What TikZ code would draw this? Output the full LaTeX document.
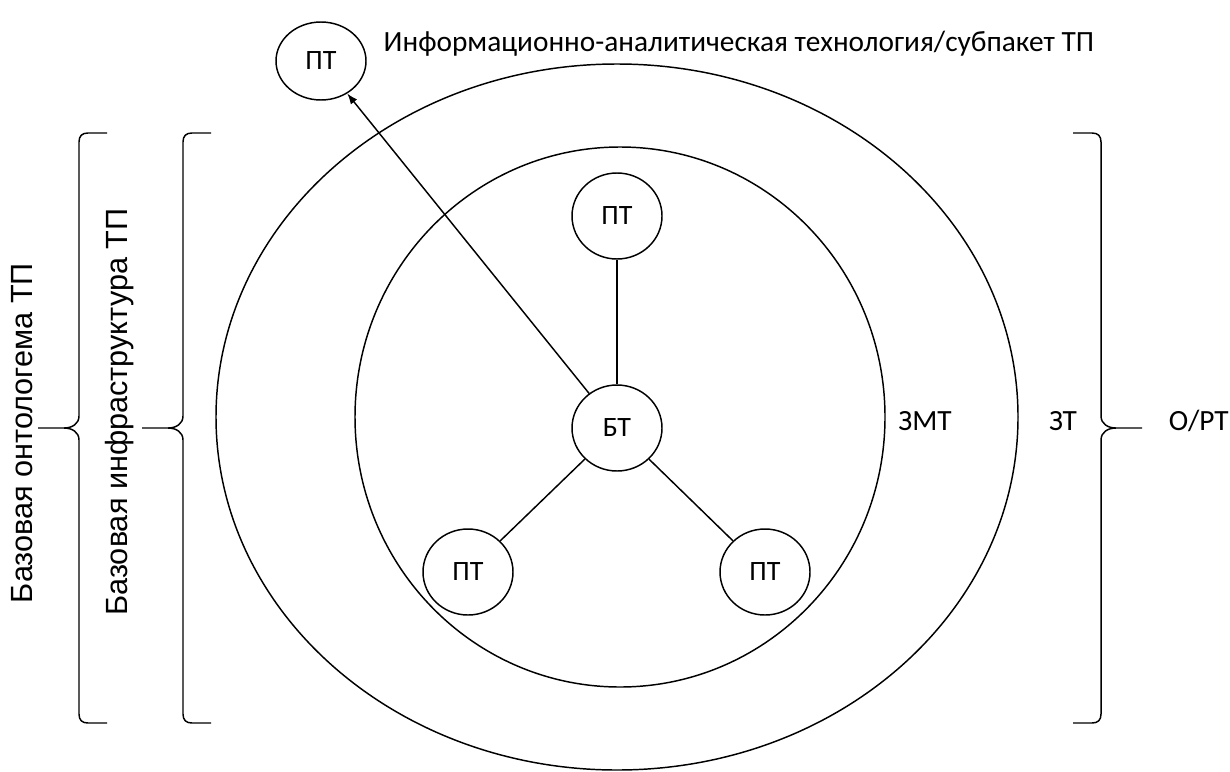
\documentclass[tikz,border=0pt]{standalone}
\usepackage{fontspec}
\setmainfont{Carlito}
\newfontfamily\arialfont{Liberation Sans}
\usetikzlibrary{shapes.geometric,arrows.meta}
\tikzset{
  lbrace/.pic={
    \draw (28,-295) -- (9,-295) .. controls (3,-295) and (0,-292) .. (0,-286) -- (0,-12)
          .. controls (0,-4) and (-7,0) .. (-15,0) -- (-41,0)
          (-15,0) .. controls (-7,0) and (0,4) .. (0,12) -- (0,286)
          .. controls (0,292) and (3,295) .. (9,295) -- (28,295);
  }
}
\begin{document}
\begin{tikzpicture}[x=0.75pt,y=-0.75pt, line width=1.1pt,
  tnode/.style={draw, ellipse, minimum width=67.5pt, minimum height=64.5pt, inner sep=0pt, font=\fontsize{21}{25}\selectfont},
  lbl/.style={font=\fontsize{22}{26}\selectfont, inner sep=0pt},
  vlbl/.style={font=\arialfont\fontsize{23}{27}\selectfont, rotate=90, inner sep=0pt}]
\useasboundingbox (0,0) rectangle (1230,771);
\draw (617,417) ellipse [x radius=300.75pt, y radius=264.75pt];
\draw (620,417) ellipse [x radius=198.75pt, y radius=202.5pt];
\node[tnode] (bt) at (617,428) {БТ};
\node[tnode] (pt1) at (617,216) {ПТ};
\node[tnode] (pt2) at (468,572) {ПТ};
\node[tnode] (pt3) at (765,572) {ПТ};
\node[tnode, minimum height=58.5pt] (pt0) at (321,61) {ПТ};
\draw (bt) -- (pt1);
\draw (bt) -- (pt2);
\draw (bt) -- (pt3);
\draw[-{Latex[length=8pt,width=6pt]}] (bt) -- (pt0);
\pic at (79,428) {lbrace};
\pic at (183,428) {lbrace};
\pic[xscale=-1] at (1101,428) {lbrace};
\node[lbl, anchor=west] (info) at (383,44) {Информационно-аналитическая технология/субпакет ТП};
\node[lbl] (zmt) at (925,421) {ЗМТ};
\node[lbl] (zt) at (1063,421) {ЗТ};
\node[lbl, anchor=west] (ort) at (1168,421) {О/РТ};
\node[vlbl] (onto) at (22,433) {Базовая онтологема ТП};
\node[vlbl] (infra) at (120,412) {Базовая инфраструктура ТП};
\end{tikzpicture}
\end{document}
